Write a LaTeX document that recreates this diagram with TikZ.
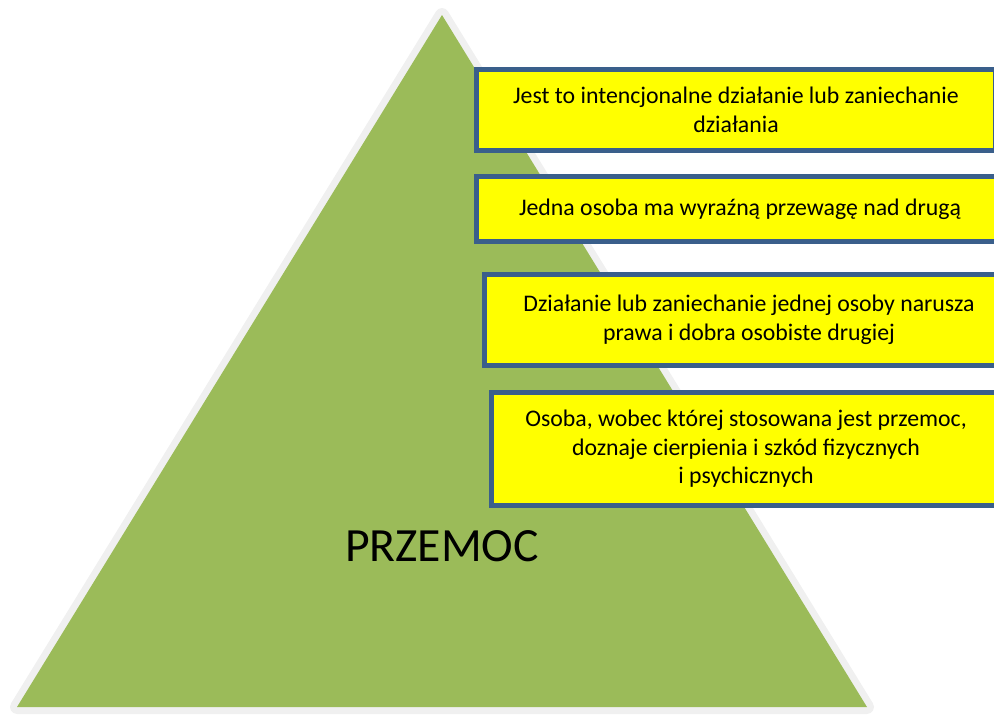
\documentclass[tikz,border=0pt]{standalone}
\usepackage{fontspec}
\setmainfont{Carlito}
\definecolor{pyrgreen}{HTML}{9BBB59}
\definecolor{pyrrim}{HTML}{F0F0F0}
\definecolor{boxblue}{HTML}{3A5F8B}
\definecolor{boxyellow}{HTML}{FFFF00}
\begin{document}
\begin{tikzpicture}[x=1pt,y=-1pt,
    fact/.style={draw=boxblue,fill=boxyellow,line width=5pt,align=center,
      font=\fontsize{23.8}{28.5}\selectfont,inner sep=0pt}]
  \useasboundingbox (0,0) rectangle (994,715);
  \clip (0,0) rectangle (994,715);
  % pyramid
  \draw[pyrrim,line width=14pt,line join=round] (442,15) -- (867,707) -- (17,707) -- cycle;
  \fill[pyrgreen] (442,15) -- (867,707) -- (17,707) -- cycle;
  \node[font=\fontsize{47.7}{54}\selectfont] (title) at (442,546) {PRZEMOC};
  % boxes
  \node[fact,minimum width=519.5pt,minimum height=81pt] (intent) at (736,110)
    {Jest to intencjonalne działanie lub zaniechanie\\działania};
  \node[fact,minimum width=527pt,minimum height=65pt] (power) at (740,209)
    {Jedna osoba ma wyraźną przewagę nad drugą};
  \node[fact,minimum width=529pt,minimum height=91pt] (rights) at (749,320)
    {Działanie lub zaniechanie jednej osoby narusza\\prawa i dobra osobiste drugiej};
  \node[fact,minimum width=509pt,minimum height=113pt] (harm) at (746,449)
    {Osoba, wobec której stosowana jest przemoc,\\doznaje cierpienia i szkód fizycznych\\i psychicznych};
\end{tikzpicture}
\end{document}
